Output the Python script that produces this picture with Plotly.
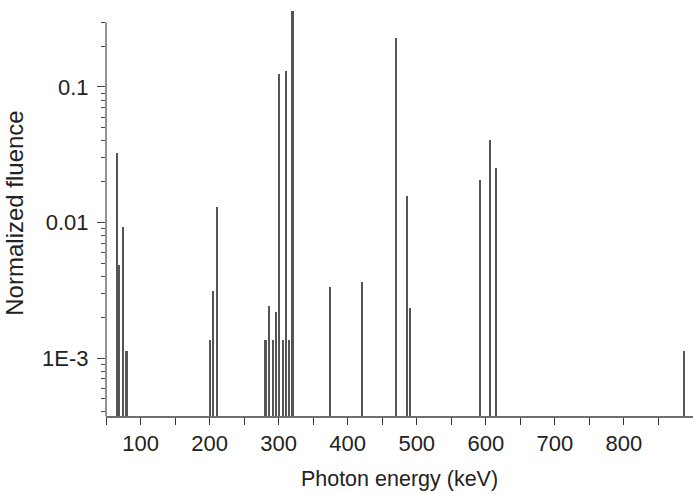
import math
import plotly.graph_objects as go

# Photon line energies (keV) and normalized fluence
energy_kev = [66.5, 69.5, 75.5, 80.0, 200.5, 205.8, 210.7, 281.3, 286.2, 292.0,
              296.4, 301.0, 306.0, 311.3, 316.0, 320.4, 375.2, 420.7, 470.9,
              485.8, 490.6, 591.6, 606.5, 615.7, 886.7]
fluence = [0.0327, 0.00485, 0.0092, 0.00112, 0.00136, 0.0031, 0.013, 0.00136,
           0.00243, 0.00136, 0.0022, 0.125, 0.00136, 0.132, 0.00136, 0.366,
           0.00336, 0.00362, 0.229, 0.0158, 0.00232, 0.0206, 0.0407, 0.0254,
           0.00112]

x_major_ticks = [100, 200, 300, 400, 500, 600, 700, 800]
x_minor_ticks = [50, 150, 250, 350, 450, 550, 650, 750, 850]
y_major_ticks = [0.001, 0.01, 0.1]
y_major_labels = ["1E-3", "0.01", "0.1"]
y_minor_mult = [2, 3, 4, 5, 6, 7, 8, 9]

x_range = [50, 900]
y_log_range = [-3.428, -0.432]
y_axis_top = 0.3

y_minor_ticks = [m * 10 ** e for e in (-4, -3, -2, -1) for m in y_minor_mult]
y_minor_ticks = [v for v in y_minor_ticks
                 if y_log_range[0] <= math.log10(v) <= y_log_range[1]]

FONT = "Liberation Sans, Arial, sans-serif"
AX = "#6e6e6e"

fig = go.Figure()
fig.add_trace(go.Bar(
    x=energy_kev, y=fluence, width=2.3,
    marker=dict(color="#555555", line=dict(width=0)),
    showlegend=False, hoverinfo="x+y",
))

fig.update_layout(
    width=693, height=494,
    margin=dict(l=106, r=0, t=10, b=78),
    paper_bgcolor="white", plot_bgcolor="white",
    font=dict(family=FONT, size=22, color="#222"),
    bargap=0,
    xaxis=dict(
        range=x_range, showgrid=False, zeroline=False,
        showline=True, linecolor=AX, linewidth=1.5,
        tickmode="array", tickvals=x_major_ticks,
        ticktext=[str(v) for v in x_major_ticks],
        ticks="outside", ticklen=7, tickwidth=1.3, tickcolor="#333",
        tickfont=dict(size=22, color="#222"),
        minor=dict(tickmode="array", tickvals=x_minor_ticks, ticks="outside",
                   ticklen=7, tickwidth=1.3, tickcolor="#333"),
        title=dict(text="Photon energy (keV)", font=dict(size=21.5, color="#222"),
                   standoff=16),
    ),
    yaxis=dict(
        type="log", range=y_log_range, showgrid=False, zeroline=False,
        showline=False,
        tickmode="array", tickvals=y_major_ticks, ticktext=y_major_labels,
        ticks="outside", ticklen=8, tickwidth=1.3, tickcolor="#444",
        ticklabelstandoff=4,
        tickfont=dict(size=22, color="#222"),
        minor=dict(tickmode="array", tickvals=y_minor_ticks, ticks="outside",
                   ticklen=4.5, tickwidth=1.3, tickcolor="#444"),
        title=dict(text="Normalized fluence", font=dict(size=24, color="#222"),
                   standoff=11),
    ),
)

# left axis line ends at 0.3 while the tallest line overshoots it
span = y_log_range[1] - y_log_range[0]
fig.add_shape(type="line", xref="paper", yref="paper",
              x0=0, x1=0, y0=0,
              y1=(math.log10(y_axis_top) - y_log_range[0]) / span,
              line=dict(color=AX, width=1.5))

fig.write_html("out.html")
